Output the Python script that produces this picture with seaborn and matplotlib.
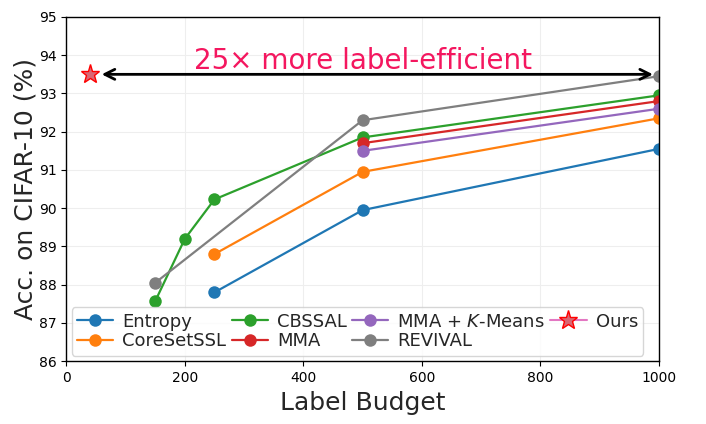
import pandas as pd
import matplotlib
matplotlib.use("Agg")
import matplotlib.pyplot as plt
import seaborn as sns

# data
methods = ["Entropy", "CoreSetSSL", "CBSSAL", "MMA", "MMA + $K$-Means", "REVIVAL"]
budgets = {
    "Entropy": [250, 500, 1000],
    "CoreSetSSL": [250, 500, 1000],
    "CBSSAL": [150, 200, 250, 500, 1000],
    "MMA": [500, 1000],
    "MMA + $K$-Means": [500, 1000],
    "REVIVAL": [150, 500, 1000],
}
accs = {
    "Entropy": [87.8, 89.95, 91.55],
    "CoreSetSSL": [88.8, 90.95, 92.35],
    "CBSSAL": [87.57, 89.2, 90.23, 91.85, 92.95],
    "MMA": [91.7, 92.8],
    "MMA + $K$-Means": [91.5, 92.6],
    "REVIVAL": [88.05, 92.3, 93.45],
}
ours_budget = [40]
ours_acc = [93.5]
colors = ["tab:blue", "tab:orange", "tab:green", "tab:red", "tab:purple", "tab:gray"]

rows = []
for m in methods:
    for b, a in zip(budgets[m], accs[m]):
        rows.append({"method": m, "budget": b, "acc": a})
df = pd.DataFrame(rows)

sns.set_style("ticks")
plt.rcParams["font.family"] = ["DejaVu Sans"]

fig, ax = plt.subplots(figsize=(7.06, 4.24), dpi=100)

sns.lineplot(data=df, x="budget", y="acc", hue="method", hue_order=methods,
             palette=colors, marker="o", markersize=9, markeredgewidth=0,
             linewidth=1.6, ax=ax)
sns.lineplot(x=ours_budget, y=ours_acc, color="tab:pink", marker="*",
             markersize=14, markeredgecolor="red", markeredgewidth=1,
             markerfacecolor=(0.85, 0.4, 0.45), label="Ours", ax=ax)

# arrow + annotation
ax.annotate("", xy=(995, 93.5), xytext=(55, 93.5),
            arrowprops=dict(arrowstyle="<->", color="black", lw=2,
                            mutation_scale=18))
ax.text(500, 93.85, "25× more label-efficient", color="#f4175f",
        fontsize=20, ha="center", va="center")

ax.set_xlim(0, 1000)
ax.set_ylim(86, 95)
ax.set_xticks([0, 200, 400, 600, 800, 1000])
ax.set_yticks(range(86, 96))
ax.grid(True, color="#eeeeee", linewidth=0.8)
ax.set_axisbelow(True)
ax.tick_params(labelsize=10, colors="black")
for s in ax.spines.values():
    s.set_linewidth(1.0)
    s.set_color("black")
ax.set_xlabel("Label Budget", fontsize=18)
ax.set_ylabel("Acc. on CIFAR-10 (%)", fontsize=18, labelpad=1)

ax.legend(loc="lower left", ncol=4, fontsize=13, handlelength=2,
          handletextpad=0.5, columnspacing=0.3, labelspacing=0.1,
          borderpad=0.3, borderaxespad=0.3, framealpha=0.8)

fig.subplots_adjust(left=0.094, right=0.933, top=0.96, bottom=0.148)
fig.savefig("out.png", dpi=100)
